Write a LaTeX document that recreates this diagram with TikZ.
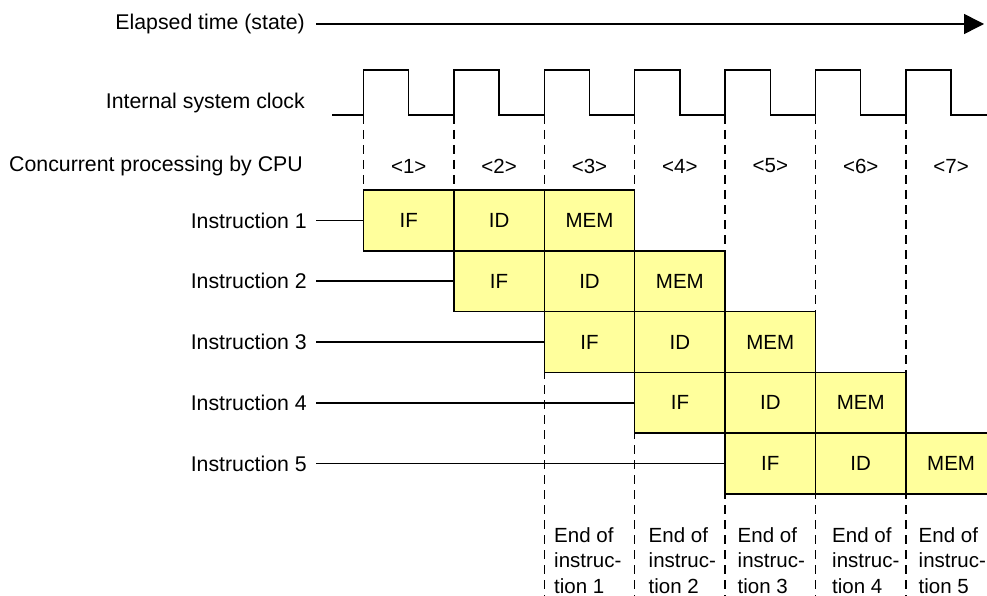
\documentclass[tikz,border=0pt]{standalone}
\usepackage{fontspec}
\setmainfont{Liberation Sans}
\usetikzlibrary{arrows.meta}
\definecolor{stagefill}{RGB}{255,255,156}
\begin{document}
\begin{tikzpicture}[x=1pt,y=-1pt,
  every node/.style={font=\fontsize{20.5}{25.3}\selectfont, inner sep=0pt},
  lbl/.style={anchor=east, font=\fontsize{21.3}{25.3}\selectfont},
  stagebox/.style={draw, line width=1.5pt, fill=stagefill, minimum width=90.4pt, minimum height=60.8pt},
  guide/.style={line width=1.5pt, dash pattern=on 9pt off 6pt},
  wire/.style={line width=1.5pt},
  endtext/.style={anchor=north west, align=left},
]
\useasboundingbox (0,0) rectangle (987,596);

% elapsed time arrow
\node[lbl] (elapsed) at (305,24) {Elapsed time (state)};
\coordinate (tend) at (984,24);
\draw[wire,-{Triangle[length=20pt,width=20pt]}] ([xshift=11pt]elapsed.east) -- (tend);

% clock
\node[lbl] (clklbl) at (305,103) {Internal system clock};
\draw[wire] (332,115)
  \foreach \k in {0,...,6} {
    -- ({363.5+90.4*\k},115) -- ({363.5+90.4*\k},70)
    -- ({408.7+90.4*\k},70) -- ({408.7+90.4*\k},115) }
  -- (987,115);

% column labels
\node[lbl] (cpulbl) at (303,166) {Concurrent processing by CPU};
\foreach \k in {1,...,7} {
  \node (p\k) at ({408.7+90.4*(\k-1)},166) {<\k>};
}

% stage boxes
\foreach \r in {1,...,5} {
  \foreach \s/\t [count=\i from 0] in {1/IF,2/ID,3/MEM} {
    \node[stagebox] (b\r-\s) at ({363.5+90.4*(\r+\i-1)+45.2},{190+60.8*(\r-1)+30.4}) {\t};
  }
  \node[lbl] (ins\r) at (307,{190+60.8*(\r-1)+30.4}) {Instruction \r};
  \draw[wire] ([xshift=9pt]ins\r.east) -- (b\r-1.west);
}

% dashed guides
\foreach \k in {1,2} {
  \draw[guide] ({363.5+90.4*(\k-1)},115) -- ({363.5+90.4*(\k-1)},190);
}
\foreach \k in {3,...,7} {
  \draw[guide] ({363.5+90.4*(\k-1)},115) -- ({363.5+90.4*(\k-1)},596);
}

% end texts
\node[endtext] (e1) at (554,527.5) {End of\\instruc-\\tion 1};
\node[endtext] (e2) at (648.5,527.5) {End of\\instruc-\\tion 2};
\node[endtext] (e3) at (737.5,527.5) {End of\\instruc-\\tion 3};
\node[endtext] (e4) at (832,527.5) {End of\\instruc-\\tion 4};
\node[endtext] (e5) at (918.5,527.5) {End of\\instruc-\\tion 5};
\end{tikzpicture}
\end{document}
